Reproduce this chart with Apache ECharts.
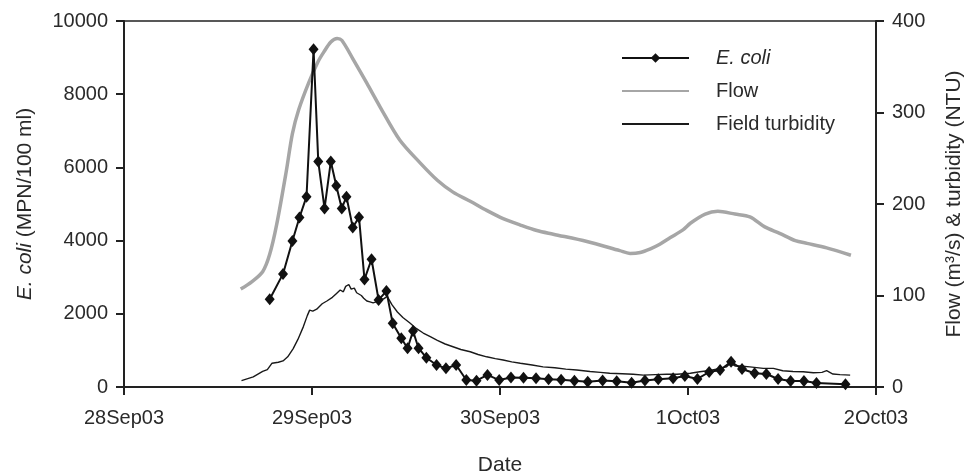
<!DOCTYPE html>
<html>
<head>
<meta charset="utf-8">
<script src="https://cdn.jsdelivr.net/npm/echarts@6/dist/echarts.min.js"></script>
<style>
html,body{margin:0;padding:0;background:#fff;}
#chart{width:976px;height:474px;}
</style>
</head>
<body>
<div id="chart"></div>
<script>
// x values are hours after 28 Sep 2003 00:00
const dateLabels = ['28Sep03', '29Sep03', '30Sep03', '1Oct03', '2Oct03'];

const ecoliHours = [18.6, 20.3, 21.5, 22.4, 23.3, 24.2, 24.8, 25.6, 26.4, 27.1, 27.8, 28.4, 29.2, 30.0, 30.7, 31.6, 32.5, 33.5, 34.3, 35.4, 36.2, 36.9, 37.6, 38.6, 39.9, 41.1, 42.4, 43.7, 45.0, 46.4, 47.9, 49.4, 51.0, 52.6, 54.2, 55.8, 57.5, 59.2, 61.1, 62.9, 64.8, 66.5, 68.2, 70.1, 71.6, 73.2, 74.7, 76.1, 77.5, 78.9, 80.5, 82.0, 83.5, 85.1, 86.8, 88.4, 92.1];
const ecoliValues = [2400, 3090, 3990, 4630, 5200, 9230, 6160, 4880, 6160, 5500, 4880, 5200, 4360, 4640, 2940, 3490, 2380, 2620, 1740, 1330, 1060, 1530, 1060, 800, 600, 510, 600, 190, 172, 330, 190, 260, 250, 240, 215, 200, 168, 145, 180, 155, 115, 180, 210, 240, 300, 220, 410, 464, 690, 492, 374, 355, 219, 164, 164, 110, 74];

const flowHours = [14.9, 16.3, 17.7, 18.6, 19.5, 20.7, 21.5, 22.3, 23.6, 24.8, 25.5, 26.4, 27.2, 27.8, 29.2, 31.0, 32.7, 35.2, 37.8, 40.0, 42.0, 44.2, 46.3, 48.4, 50.6, 52.7, 54.8, 59.1, 63.3, 64.6, 65.9, 67.2, 68.4, 69.7, 71.4, 72.3, 74.2, 75.8, 78.0, 79.9, 81.8, 83.7, 85.7, 87.2, 89.7, 92.8];
const flowValues = [107, 115, 126, 145, 178, 235, 277, 303, 333, 356, 366, 377, 381, 379, 359, 332, 306, 270, 245, 226, 213, 203, 193, 184, 177, 171, 167, 159, 149, 146, 147, 151, 156, 163, 172, 179, 189, 192, 189, 186, 175, 168, 160, 157, 152, 144];

const turbHours = [15.0, 16.5, 17.7, 18.3, 18.9, 19.7, 20.3, 20.9, 21.6, 22.2, 22.9, 23.4, 23.7, 24.1, 24.6, 25.3, 25.9, 26.6, 27.1, 27.6, 28.0, 28.3, 28.7, 29.0, 29.4, 29.7, 30.3, 30.6, 31.0, 31.4, 31.8, 32.2, 32.6, 33.1, 33.6, 34.2, 34.9, 35.6, 36.5, 37.3, 38.2, 39.1, 40.0, 41.0, 42.0, 43.0, 44.2, 45.2, 46.3, 47.4, 48.4, 49.5, 50.6, 52.1, 53.5, 55.0, 56.4, 57.8, 59.5, 60.8, 62.0, 63.6, 65.0, 66.3, 67.8, 69.3, 70.6, 72.3, 73.5, 74.8, 76.1, 76.9, 77.4, 78.0, 78.6, 79.9, 81.6, 82.9, 84.1, 85.4, 86.7, 88.0, 89.1, 89.7, 90.5, 91.4, 92.7];
const turbValues = [7, 11, 17, 19, 26, 27, 28.5, 33, 42, 52, 66, 78, 84, 83, 85, 91, 94, 98, 102, 106, 104, 110, 112, 107, 108, 103, 100, 97, 94, 93, 92, 93, 97, 96, 99, 90, 82, 76, 70, 64, 59, 55, 51, 47, 44, 41, 38.5, 35.5, 33, 31, 29.5, 27.5, 26, 24, 22, 21, 19.5, 18.6, 17, 16, 15, 14.5, 14, 13, 13.5, 14, 14, 15, 16.7, 18, 20.4, 22, 26, 23, 23, 22, 20.4, 20.4, 17.8, 17, 16.7, 15.6, 16, 17.8, 14.2, 13.5, 13];

const zip = (xs, ys) => xs.map((x, i) => [x, ys[i]]);
const FONT = '"Liberation Sans", Arial, Helvetica, sans-serif';
const TXT = '#2a2a2a';
const FS = 20;

const chart = echarts.init(document.getElementById('chart'), null, {renderer: 'canvas'});
chart.setOption({
  animation: false,
  backgroundColor: '#fff',
  textStyle: {fontFamily: FONT},
  grid: {left: 124, right: 100, top: 21, bottom: 87, containLabel: false, outerBoundsMode: 'none', show: true, borderColor: '#222', borderWidth: 1.5, backgroundColor: 'transparent'},
  legend: {
    orient: 'vertical',
    left: 616, top: 43,
    itemWidth: 67, itemHeight: 12, itemGap: 13,
    data: [
      {name: 'E. coli'},
      {name: 'Flow', itemStyle: {opacity: 0}},
      {name: 'Field turbidity', itemStyle: {opacity: 0}}
    ],
    textStyle: {fontFamily: FONT, fontSize: FS, color: TXT, padding: [0, 0, 0, 22], rich: {i: {fontStyle: 'italic', fontSize: FS, fontFamily: FONT, color: TXT}}},
    formatter: n => n === 'E. coli' ? '{i|E. coli}' : n
  },
  xAxis: {
    type: 'value', min: 0, max: 96, interval: 24,
    name: 'Date', nameLocation: 'middle', nameGap: 68,
    nameTextStyle: {fontSize: FS + 1, color: TXT, fontFamily: FONT},
    axisLine: {show: true, lineStyle: {color: '#222', width: 2}},
    axisTick: {show: true, inside: false, length: 8, lineStyle: {color: '#222', width: 2}},
    axisLabel: {fontSize: FS, color: TXT, margin: 21, fontFamily: FONT, formatter: v => dateLabels[Math.round(v / 24)]},
    splitLine: {show: false}
  },
  yAxis: [{
    type: 'value', min: 0, max: 10000, interval: 2000, position: 'left',
    name: '{i|E. coli} (MPN/100 ml)', nameLocation: 'middle', nameGap: 88, nameRotate: 90,
    nameTextStyle: {fontSize: FS + 1, color: TXT, fontFamily: FONT, rich: {i: {fontStyle: 'italic', fontSize: FS + 1, color: TXT, fontFamily: FONT}}},
    axisLine: {show: true, lineStyle: {color: '#222', width: 2}},
    axisTick: {show: true, inside: false, length: 8, lineStyle: {color: '#222', width: 2}},
    axisLabel: {fontSize: FS, color: TXT, margin: 16, fontFamily: FONT, formatter: v => String(v)},
    splitLine: {show: false}
  }, {
    type: 'value', min: 0, max: 400, interval: 100, position: 'right',
    name: 'Flow (m³/s) & turbidity (NTU)', nameLocation: 'middle', nameGap: 68, nameRotate: 90,
    nameTextStyle: {fontSize: FS + 1, color: TXT, fontFamily: FONT},
    axisLine: {show: true, lineStyle: {color: '#222', width: 2}},
    axisTick: {show: true, inside: false, length: 8, lineStyle: {color: '#222', width: 2}},
    axisLabel: {fontSize: FS, color: TXT, margin: 16, fontFamily: FONT, formatter: v => String(v)},
    splitLine: {show: false}
  }],
  series: [{
    name: 'Flow', type: 'line', yAxisIndex: 1, data: zip(flowHours, flowValues),
    smooth: 0.3, showSymbol: false, symbol: 'none', z: 2,
    lineStyle: {color: '#a6a6a6', width: 3.5}, itemStyle: {color: '#a6a6a6'}
  }, {
    name: 'Field turbidity', type: 'line', yAxisIndex: 1, data: zip(turbHours, turbValues),
    showSymbol: false, symbol: 'none', z: 3,
    lineStyle: {color: '#1a1a1a', width: 1.4}, itemStyle: {color: '#1a1a1a'}
  }, {
    name: 'E. coli', type: 'line', yAxisIndex: 0, data: zip(ecoliHours, ecoliValues),
    symbol: 'diamond', symbolSize: [10, 12], showAllSymbol: true, z: 4,
    lineStyle: {color: '#111', width: 2}, itemStyle: {color: '#111', borderWidth: 0}
  }]
});
</script>
</body>
</html>
